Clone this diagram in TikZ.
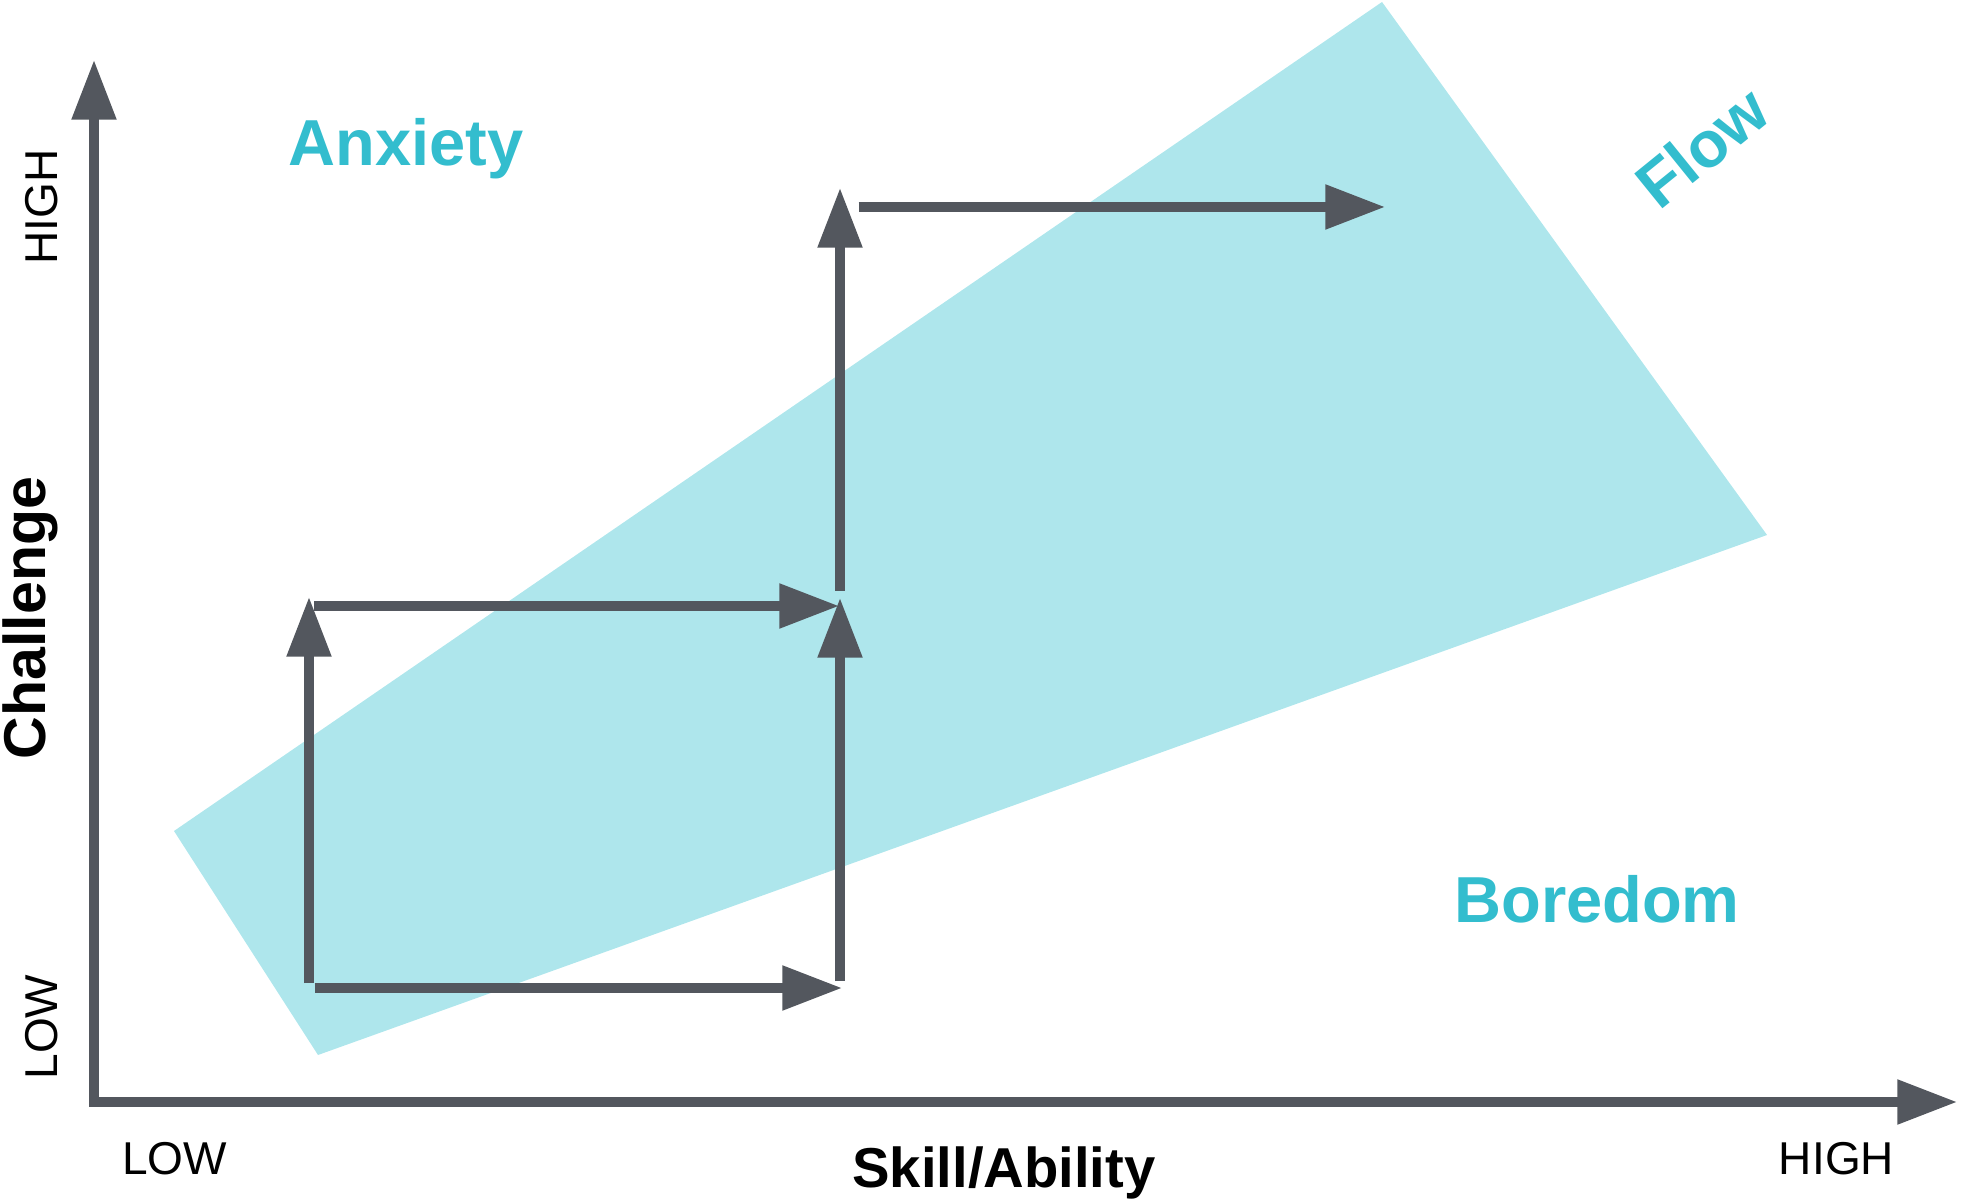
\documentclass[tikz,border=0pt]{standalone}
\usepackage{fontspec}
\setmainfont{Liberation Sans}
\usepackage{tikz}
\usetikzlibrary{arrows.meta, positioning}
\definecolor{FlowCyan}{HTML}{AEE6EC}
\definecolor{LabelCyan}{HTML}{33BDCE}
\definecolor{AxisGray}{HTML}{53575E}
\tikzset{
  >={Triangle[length=17pt,width=12.2pt]},  % Punta delle frecce
  % Assi e percorso
  axis line/.style={<->,line width=2.6pt,AxisGray,line join=miter},
  move arrow/.style={->,line width=2.6pt,AxisGray},
  % Etichette
  zone label/.style={font=\bfseries\fontsize{18.5}{20}\selectfont,LabelCyan,inner sep=0},
  axis title/.style={font=\bfseries\fontsize{16}{18}\selectfont,black,inner sep=0},
  axis tick/.style={font=\fontsize{13.1}{15}\selectfont,black,inner sep=0}
}

\begin{document}
\begin{tikzpicture}
    \useasboundingbox (0,0) rectangle (19.7,11.98);
    \fill[FlowCyan] (1.74,3.67)--(13.82,11.96)--(17.67,6.63)--(3.18,1.43)--cycle;
    \coordinate (ytop) at (0.94,11.38);
    \coordinate (xend) at (19.57,0.96);
    \draw[axis line] (ytop) |- (xend);
    \coordinate (a1) at (3.09,2.15);
    \coordinate (a2) at (3.09,6.01);
    \coordinate (b1) at (3.15,2.10);
    \coordinate (b2) at (8.42,2.10);
    \coordinate (c1) at (3.14,5.92);
    \coordinate (c2) at (8.39,5.92);
    \coordinate (d1) at (8.40,2.17);
    \coordinate (d2) at (8.40,6.00);
    \coordinate (e1) at (8.40,6.07);
    \coordinate (e2) at (8.40,10.10);
    \coordinate (f1) at (8.585,9.91);
    \coordinate (f2) at (13.85,9.91);
    \draw[move arrow] (a1)--(a2);
    \draw[move arrow] (b1)--(b2);
    \draw[move arrow] (c1)--(c2);
    \draw[move arrow] (d1)--(d2);
    \draw[move arrow] (e1)--(e2);
    \draw[move arrow] (f1)--(f2);
    \node[zone label,anchor=base] (anxiety) at (4.06,10.32) {Anxiety};
    \node[zone label,anchor=base] (boredom) at (15.97,2.76) {Boredom};
    \node[zone label,rotate=39] (flow) at (17.02,10.51) {Flow};
    \node[axis title,font=\bfseries\fontsize{16.8}{18}\selectfont,rotate=90,anchor=base] (challenge) at (0.45,5.80) {Challenge};
    \node[axis title,anchor=base] (skill) at (10.04,0.11) {Skill/Ability};
    \node[axis tick,rotate=90,anchor=base] (yhigh) at (0.57,9.91) {HIGH};
    \node[axis tick,rotate=90,anchor=base] (ylow) at (0.57,1.71) {LOW};
    \node[axis tick,anchor=base] (xlow) at (1.745,0.24) {LOW};
    \node[axis tick,anchor=base] (xhigh) at (18.365,0.24) {HIGH};
  \end{tikzpicture}
\end{document}
